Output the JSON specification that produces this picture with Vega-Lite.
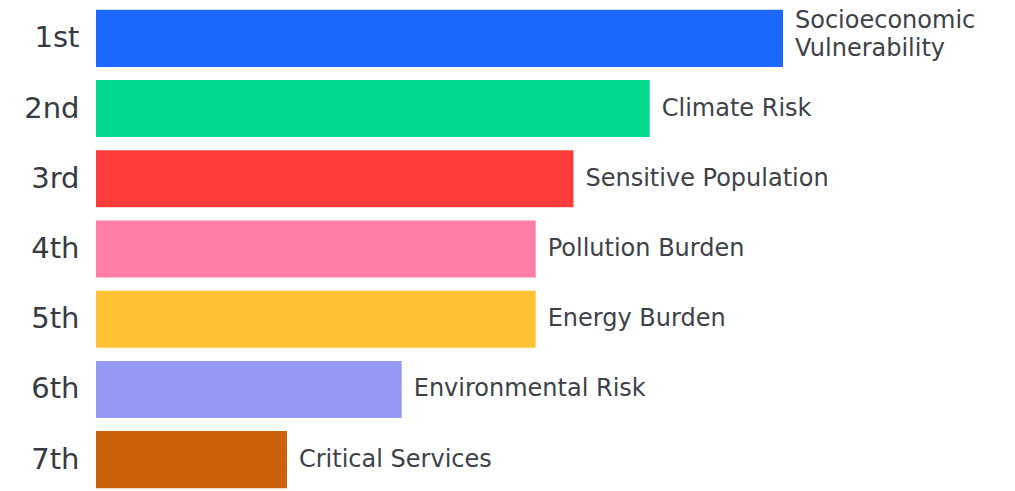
{
  "$schema": "https://vega.github.io/schema/vega-lite/v6.json",
  "autosize": {"type": "none"},
  "padding": {"left": 96, "top": 7, "right": 232, "bottom": 0},
  "width": 687,
  "height": 484,
  "background": "white",
  "config": {"view": {"stroke": null}},
  "data": {
    "values": [
      {"rank": "1st", "category": "Socioeconomic\nVulnerability", "score": 100, "color": "#1C68FF", "lines": 2},
      {"rank": "2nd", "category": "Climate Risk", "score": 80.6, "color": "#00D98E", "lines": 1},
      {"rank": "3rd", "category": "Sensitive Population", "score": 69.5, "color": "#FF3C3C", "lines": 1},
      {"rank": "4th", "category": "Pollution Burden", "score": 64, "color": "#FF7EA6", "lines": 1},
      {"rank": "5th", "category": "Energy Burden", "score": 64, "color": "#FFC235", "lines": 1},
      {"rank": "6th", "category": "Environmental Risk", "score": 44.5, "color": "#9699F4", "lines": 1},
      {"rank": "7th", "category": "Critical Services", "score": 27.8, "color": "#C9620A", "lines": 1}
    ]
  },
  "encoding": {
    "y": {
      "field": "rank",
      "type": "nominal",
      "sort": null,
      "scale": {"paddingInner": 0.187, "paddingOuter": 0.04},
      "axis": {
        "title": null,
        "domain": false,
        "ticks": false,
        "labelPadding": 17,
        "labelFont": "DejaVu Sans",
        "labelFontSize": 29,
        "labelColor": "#363a42"
      }
    },
    "x": {
      "field": "score",
      "type": "quantitative",
      "scale": {"domain": [0, 100], "nice": false},
      "axis": null
    }
  },
  "layer": [
    {
      "mark": {"type": "bar", "clip": false},
      "encoding": {
        "color": {"field": "color", "type": "nominal", "scale": null, "legend": null}
      }
    },
    {
      "transform": [{"filter": "datum.lines == 1"}],
      "mark": {
        "type": "text",
        "align": "left",
        "baseline": "middle",
        "dx": 12,
        "font": "DejaVu Sans",
        "fontSize": 24,
        "color": "#3d4148"
      },
      "encoding": {
        "text": {"field": "category", "type": "nominal"}
      }
    },
    {
      "transform": [{"filter": "datum.lines == 2"}],
      "mark": {
        "type": "text",
        "align": "left",
        "baseline": "middle",
        "dx": 12,
        "dy": -17,
        "font": "DejaVu Sans",
        "fontSize": 24,
        "color": "#3d4148",
        "lineBreak": "\n",
        "lineHeight": 28
      },
      "encoding": {
        "text": {"field": "category", "type": "nominal"}
      }
    }
  ]
}
